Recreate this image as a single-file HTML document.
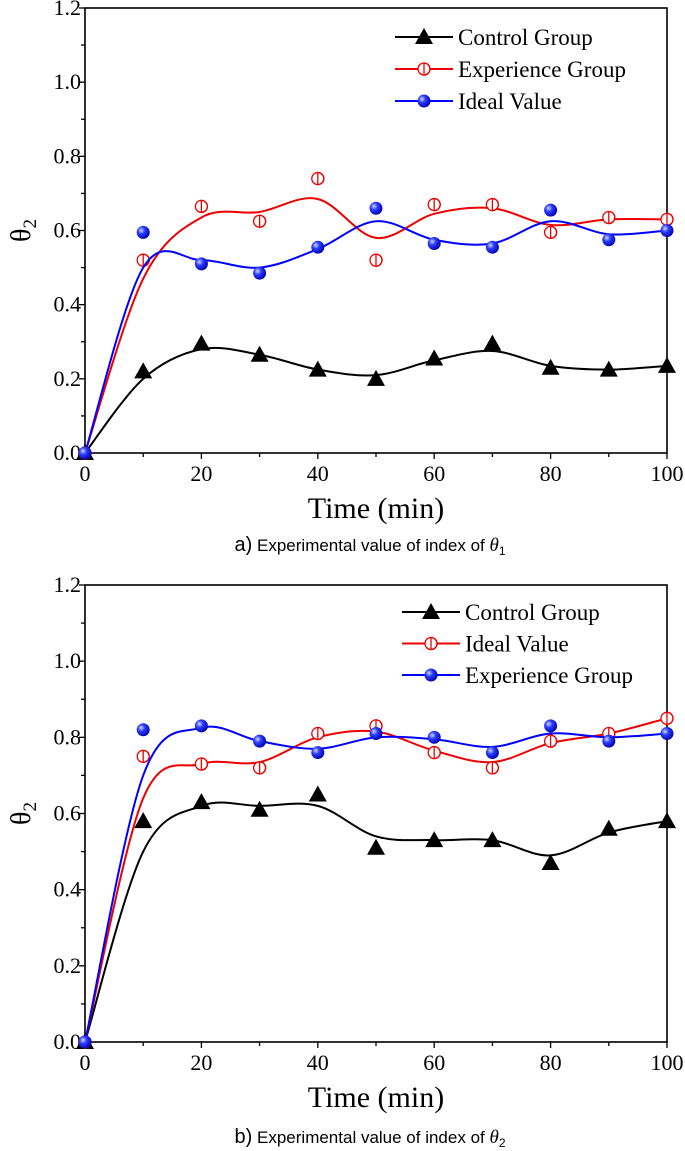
<!DOCTYPE html>
<html><head><meta charset="utf-8"><style>
body{margin:0;background:#fff;width:685px;height:1151px;overflow:hidden}
svg{display:block}
text{font-family:"Liberation Serif",serif}
.cap{font-family:"Liberation Sans",sans-serif}
</style></head><body>
<svg id="s" width="685" height="1151"></svg>
<script>
const xCats=[0,10,20,30,40,50,60,70,80,90,100];
const xTicks=[0,20,40,60,80,100];
const yTicks=[0.0,0.2,0.4,0.6,0.8,1.0,1.2];
// Chart a
const aControl=[0,0.22,0.295,0.265,0.225,0.2,0.255,0.295,0.23,0.225,0.235];
const aControlFit=[0,0.2,0.28,0.265,0.225,0.21,0.25,0.275,0.235,0.225,0.235];
const aExp=[0,0.52,0.665,0.625,0.74,0.52,0.67,0.67,0.595,0.635,0.63];
const aExpFit=[0,0.47,0.635,0.65,0.685,0.58,0.645,0.66,0.615,0.63,0.63];
const aIdeal=[0,0.595,0.51,0.485,0.555,0.66,0.565,0.555,0.655,0.575,0.6];
const aIdealFit=[0,0.5,0.52,0.5,0.55,0.625,0.575,0.565,0.625,0.59,0.6];
// Chart b
const bControl=[0,0.58,0.63,0.61,0.65,0.51,0.53,0.53,0.47,0.56,0.58];
const bControlFit=[0,0.5,0.62,0.62,0.62,0.54,0.53,0.53,0.49,0.55,0.58];
const bIdeal=[0,0.75,0.73,0.72,0.81,0.83,0.76,0.72,0.79,0.81,0.85];
const bIdealFit=[0,0.64,0.73,0.735,0.8,0.815,0.765,0.735,0.785,0.81,0.85];
const bExp=[0,0.82,0.83,0.79,0.76,0.81,0.80,0.76,0.83,0.79,0.81];
const bExpFit=[0,0.7,0.825,0.79,0.77,0.8,0.795,0.775,0.81,0.8,0.81];

const NS="http://www.w3.org/2000/svg";
const svg=document.getElementById('s');
const defs=document.createElementNS(NS,'defs');
defs.innerHTML='<radialGradient id="bg" cx="0.35" cy="0.35" r="0.7"><stop offset="0" stop-color="#cfd8ff"/><stop offset="0.4" stop-color="#2a3cff"/><stop offset="1" stop-color="#0000a8"/></radialGradient>';
svg.appendChild(defs);
function mk(tag,attrs,parent){const e=document.createElementNS(NS,tag);for(const k in attrs)e.setAttribute(k,attrs[k]);(parent||svg).appendChild(e);return e;}

function path(xs,ys,X,Y){
  const p=xs.map((x,i)=>[X(x),Y(ys[i])]);
  let d='M'+p[0][0]+','+p[0][1];
  for(let i=0;i<p.length-1;i++){
    const p0=p[i-1]||p[i],p1=p[i],p2=p[i+1],p3=p[i+2]||p2;
    const c1=[p1[0]+(p2[0]-p0[0])/6,p1[1]+(p2[1]-p0[1])/6];
    const c2=[p2[0]-(p3[0]-p1[0])/6,p2[1]-(p3[1]-p1[1])/6];
    d+=' C'+c1+' '+c2+' '+p2;
  }
  return d;
}
function marker(g,type,cx,cy){
  if(type==='tri'){const e=mk('polygon',{points:`${cx},${cy-9} ${cx-9},${cy+7} ${cx+9},${cy+7}`,fill:'#000'},g);}
  else if(type==='half'){const c=mk('circle',{cx,cy,r:6,fill:'#fff',stroke:'#e00',"stroke-width":1.3},g);
    mk('path',{d:`M${cx},${cy-6} A6,6 0 0,1 ${cx},${cy+6} Z`,fill:'none',stroke:'#e00',"stroke-width":1.3},g);}
  else{const c=mk('circle',{cx,cy,r:6.5,fill:'url(#bg)'},g);}
}
function chart(cfg){
  const x0=85,x1=667,yb=cfg.yb,yt=cfg.yt;
  const X=v=>x0+(x1-x0)*v/100, Y=v=>yb-(yb-yt)*v/1.2;
  const g=mk('g',{});
  const f=mk('rect',{x:x0,y:yt,width:x1-x0,height:yb-yt,fill:'none',stroke:'#000',"stroke-width":1.6},g);
  
  for(let v=0;v<=1.2001;v+=0.1){const y=Y(v);const maj=Math.round(v*10)%2===0;mk('line',{x1:x0,x2:x0-(maj?6:4),y1:y,y2:y,stroke:'#000',"stroke-width":1.3},g);}
  yTicks.forEach(v=>{const t=mk('text',{x:x0-4,y:Y(v)+7,"text-anchor":"end","font-size":22},g);t.textContent=v.toFixed(1);});
  for(let v=0;v<=100;v+=10){mk('line',{x1:X(v),x2:X(v),y1:yb,y2:yb+(v%20===0?6:4),stroke:'#000',"stroke-width":1.3},g);}
  xTicks.forEach(v=>{const t=mk('text',{x:X(v),y:yb+28,"text-anchor":"middle","font-size":22},g);t.textContent=v;});
  const xt=mk('text',{x:376,y:yb+65,"text-anchor":"middle","font-size":30},g);xt.textContent='Time (min)';
  const yl=mk('text',{x:0,y:0,transform:`translate(30,${(yb+yt)/2}) rotate(-90)`,"text-anchor":"middle","font-size":28},g);yl.innerHTML='θ<tspan font-size="19" dy="6">2</tspan>';
  cfg.series.forEach(s=>{
    const sg=mk('g',{},g);
    const p=mk('path',{d:path(xCats,s.fit,X,Y),fill:'none',stroke:s.color,"stroke-width":2},sg);
    xCats.forEach((x,i)=>marker(sg,s.m,X(x),Y(s.vals[i])));
  });
  cfg.series.forEach((s,i)=>{
    const ly=cfg.ly+i*cfg.ld;
    const lg=mk('g',{},g);
    mk('line',{x1:cfg.lx,x2:cfg.lx+58,y1:ly,y2:ly,stroke:s.color,"stroke-width":2},lg);
    marker(lg,s.m,cfg.lx+29,ly);
    const t=mk('text',{x:cfg.lx+63,y:ly+8,"font-size":23},lg);t.textContent=s.label;
  });
  const cap=mk('text',{x:370,y:cfg.capY,"text-anchor":"middle","font-size":17,class:'cap'},g);
  cap.innerHTML=cfg.capL+'<tspan font-size="20">)</tspan> Experimental value of index of <tspan font-style="italic" font-family="Liberation Serif" font-size="19">θ</tspan><tspan font-size="12" dy="4">'+cfg.capN+'</tspan>';
  
}
chart({name:'chart-a',yb:453,yt:8,lx:395,ly:37,ld:32,capY:551,capL:'<tspan font-size="20">a</tspan>',capN:'1',
 series:[{name:'control-group',label:'Control Group',color:'#000',m:'tri',vals:aControl,fit:aControlFit},
 {name:'experience-group',label:'Experience Group',color:'#e00',m:'half',vals:aExp,fit:aExpFit},
 {name:'ideal-value',label:'Ideal Value',color:'#00f',m:'ball',vals:aIdeal,fit:aIdealFit}]});
chart({name:'chart-b',yb:1042,yt:585,lx:402,ly:612,ld:31.5,capY:1143,capL:'<tspan font-size="20">b</tspan>',capN:'2',
 series:[{name:'control-group',label:'Control Group',color:'#000',m:'tri',vals:bControl,fit:bControlFit},
 {name:'ideal-value',label:'Ideal Value',color:'#e00',m:'half',vals:bIdeal,fit:bIdealFit},
 {name:'experience-group',label:'Experience Group',color:'#00f',m:'ball',vals:bExp,fit:bExpFit}]});
</script>
</body></html>
